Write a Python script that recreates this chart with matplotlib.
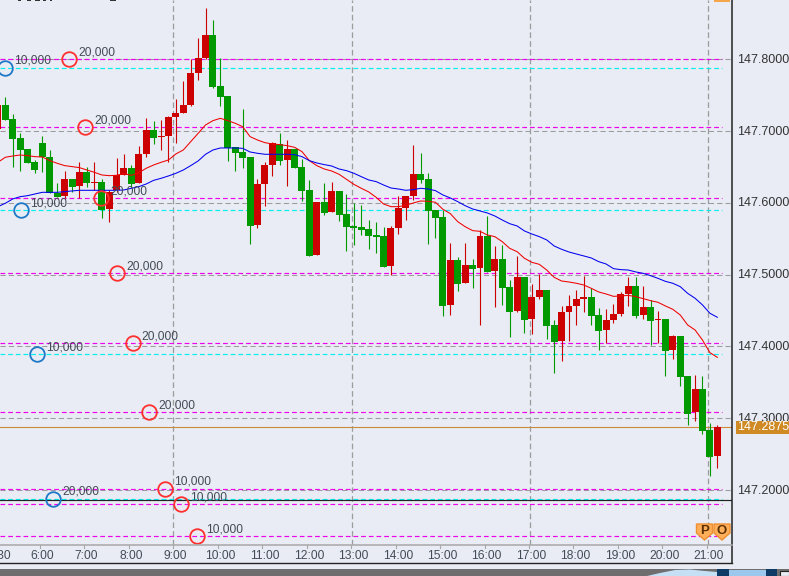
"""
USD/JPY 10 minute candles with order levels, redrawn from a screenshot.
"""
import matplotlib
matplotlib.use("Agg")
import matplotlib.pyplot as plt
from matplotlib.patches import Rectangle, Polygon

W, H = 789, 576
BG = "#e9ecf4"
RED = "#cc0000"
GREEN = "#009900"
TEXT = "#434c56"

# red body = up, green body = down
opens = [147.7031, 147.7366, 147.7166, 147.6901, 147.6753, 147.6572, 147.6832, 147.6637, 147.6144, 147.6102,
         147.6335, 147.6237, 147.6432, 147.6279, 147.6293, 147.5916, 147.6182, 147.6391, 147.6488, 147.6279,
         147.6684, 147.7017, 147.6925, 147.6934, 147.7199, 147.7255, 147.7366, 147.7812, 147.8021, 147.8342,
         147.7631, 147.7492, 147.6781, 147.6711, 147.6641, 147.5693, 147.6265, 147.6530, 147.6823, 147.6600,
         147.6753, 147.6502, 147.6182, 147.5276, 147.6014, 147.5875, 147.6168, 147.5847, 147.5680, 147.5666,
         147.5638, 147.5554, 147.5540, 147.5122, 147.5652, 147.5931, 147.6098, 147.6404, 147.6335, 147.5902,
         147.5805, 147.4579, 147.5205, 147.4885, 147.5136, 147.5094, 147.5540, 147.5053, 147.5220, 147.4830,
         147.4495, 147.4969, 147.4382, 147.4690, 147.4788, 147.4300, 147.4077, 147.4481, 147.4565, 147.4662,
         147.4690, 147.4439, 147.4230, 147.4368, 147.4451, 147.4732, 147.4844, 147.4439, 147.4551, 147.4368,
         147.4382, 147.3951, 147.4146, 147.3589, 147.3087, 147.3408, 147.2836, 147.2474]
highs = [147.7366, 147.7473, 147.7236, 147.6971, 147.6753, 147.6600, 147.6934, 147.6739, 147.6275, 147.6446,
         147.6335, 147.6567, 147.6497, 147.6567, 147.6335, 147.6182, 147.6628, 147.6684, 147.6530, 147.6795,
         147.7185, 147.7143, 147.7157, 147.7213, 147.7450, 147.7701, 147.8003, 147.8300, 147.8714, 147.8551,
         147.8021, 147.7492, 147.6781, 147.7310, 147.6641, 147.6335, 147.6572, 147.6850, 147.6976, 147.6878,
         147.6753, 147.6614, 147.6321, 147.6014, 147.6279, 147.6293, 147.6168, 147.6126, 147.6000, 147.5972,
         147.5763, 147.5735, 147.5666, 147.5680, 147.6098, 147.6098, 147.6809, 147.6697, 147.6418, 147.5902,
         147.5902, 147.5438, 147.5248, 147.5443, 147.5220, 147.5624, 147.5819, 147.5401, 147.5415, 147.4927,
         147.5262, 147.4969, 147.4871, 147.5011, 147.4788, 147.4368, 147.4565, 147.4718, 147.4788, 147.4983,
         147.4816, 147.4536, 147.4522, 147.4592, 147.4760, 147.4969, 147.4969, 147.4844, 147.4648, 147.4495,
         147.4382, 147.4160, 147.4146, 147.3589, 147.3603, 147.3589, 147.2934, 147.2906]
lows = [147.7031, 147.7157, 147.6507, 147.6451, 147.6553, 147.6423, 147.6437, 147.6135, 147.6088, 147.6065,
        147.6158, 147.6065, 147.6228, 147.6182, 147.5795, 147.5740, 147.6158, 147.6391, 147.6228, 147.6279,
        147.6646, 147.6823, 147.6739, 147.6577, 147.6832, 147.7255, 147.7352, 147.7715, 147.8003, 147.7599,
        147.7352, 147.6586, 147.6446, 147.6484, 147.5429, 147.5652, 147.5958, 147.6377, 147.6530, 147.6237,
        147.6488, 147.6028, 147.5262, 147.5276, 147.5833, 147.5875, 147.5749, 147.5331, 147.5415, 147.5554,
        147.5359, 147.5303, 147.5108, 147.4997, 147.5568, 147.5763, 147.6042, 147.6279, 147.5429, 147.5513,
        147.4425, 147.4439, 147.4774, 147.4885, 147.4816, 147.4300, 147.5039, 147.4551, 147.4579, 147.4132,
        147.4481, 147.4187, 147.4175, 147.4662, 147.4105, 147.3631, 147.3798, 147.4077, 147.4300, 147.4481,
        147.4300, 147.3951, 147.4054, 147.4327, 147.4425, 147.4565, 147.4398, 147.4382, 147.4021, 147.4054,
        147.3589, 147.3826, 147.3450, 147.2906, 147.2962, 147.2781, 147.2195, 147.2307]
closes = [147.7366, 147.7157, 147.6892, 147.6739, 147.6558, 147.6460, 147.6637, 147.6135, 147.6088, 147.6335,
          147.6228, 147.6432, 147.6284, 147.6293, 147.5902, 147.6158, 147.6391, 147.6488, 147.6265, 147.6684,
          147.7017, 147.6906, 147.6939, 147.7199, 147.7255, 147.7366, 147.7812, 147.8021, 147.8342, 147.7617,
          147.7478, 147.6767, 147.6697, 147.6632, 147.5680, 147.6265, 147.6530, 147.6837, 147.6586, 147.6753,
          147.6488, 147.6168, 147.5262, 147.6014, 147.5861, 147.6168, 147.5833, 147.5666, 147.5652, 147.5624,
          147.5540, 147.5526, 147.5108, 147.5652, 147.5931, 147.6098, 147.6404, 147.6321, 147.5889, 147.5791,
          147.4565, 147.5205, 147.4871, 147.5136, 147.5080, 147.5540, 147.5039, 147.5220, 147.4816, 147.4481,
          147.4969, 147.4368, 147.4690, 147.4788, 147.4286, 147.4063, 147.4481, 147.4565, 147.4662, 147.4690,
          147.4425, 147.4216, 147.4368, 147.4451, 147.4732, 147.4844, 147.4425, 147.4551, 147.4356, 147.4382,
          147.3937, 147.4146, 147.3575, 147.3059, 147.3408, 147.2822, 147.2460, 147.2875]

ma_fast = [147.6567, 147.6637, 147.6655, 147.6669, 147.6660, 147.6646, 147.6641, 147.6590, 147.6553, 147.6521,
           147.6507, 147.6493, 147.6460, 147.6428, 147.6391, 147.6381, 147.6386, 147.6409, 147.6386, 147.6423,
           147.6484, 147.6530, 147.6567, 147.6600, 147.6684, 147.6739, 147.6855, 147.6971, 147.7088, 147.7148,
           147.7180, 147.7148, 147.7111, 147.7064, 147.6925, 147.6878, 147.6841, 147.6823, 147.6813, 147.6799,
           147.6776, 147.6716, 147.6590, 147.6521, 147.6474, 147.6446, 147.6400, 147.6330, 147.6260, 147.6205,
           147.6154, 147.6079, 147.5986, 147.5949, 147.5949, 147.5968, 147.6000, 147.6028, 147.6024, 147.6010,
           147.5912, 147.5852, 147.5740, 147.5670, 147.5615, 147.5605, 147.5554, 147.5531, 147.5461, 147.5368,
           147.5322, 147.5229, 147.5173, 147.5145, 147.5066, 147.4964, 147.4913, 147.4899, 147.4881, 147.4857,
           147.4811, 147.4760, 147.4732, 147.4699, 147.4704, 147.4713, 147.4695, 147.4667, 147.4639, 147.4616,
           147.4565, 147.4518, 147.4439, 147.4300, 147.4230, 147.4090, 147.3914, 147.3849]
ma_slow = [147.5949, 147.5996, 147.6056, 147.6088, 147.6102, 147.6126, 147.6149, 147.6149, 147.6149, 147.6158,
           147.6168, 147.6177, 147.6177, 147.6177, 147.6177, 147.6177, 147.6177, 147.6182, 147.6205, 147.6228,
           147.6265, 147.6316, 147.6344, 147.6377, 147.6414, 147.6460, 147.6521, 147.6586, 147.6679, 147.6739,
           147.6767, 147.6767, 147.6767, 147.6762, 147.6711, 147.6693, 147.6679, 147.6679, 147.6679, 147.6679,
           147.6674, 147.6646, 147.6590, 147.6558, 147.6535, 147.6516, 147.6474, 147.6451, 147.6414, 147.6367,
           147.6321, 147.6298, 147.6251, 147.6209, 147.6195, 147.6177, 147.6186, 147.6205, 147.6195, 147.6172,
           147.6112, 147.6070, 147.6019, 147.5963, 147.5917, 147.5889, 147.5861, 147.5819, 147.5763, 147.5712,
           147.5680, 147.5610, 147.5568, 147.5531, 147.5485, 147.5401, 147.5355, 147.5317, 147.5289, 147.5262,
           147.5234, 147.5183, 147.5150, 147.5085, 147.5071, 147.5066, 147.5039, 147.5020, 147.4987, 147.4950,
           147.4908, 147.4881, 147.4834, 147.4741, 147.4672, 147.4579, 147.4463, 147.4407]

# order levels: bar position, price, size
sell_bars = [9.59, 11.75, 13.9, 16.06, 18.2, 20.37, 22.5, 24.7, 26.85]
sell_prices = [147.8003, 147.7055, 147.6065, 147.5020, 147.4044, 147.3082, 147.2019, 147.1800, 147.1355]
sell_sizes = ["20,000", "20,000", "20,000", "20,000", "20,000", "20,000", "10,000", "10,000", "10,000"]
buy_bars = [0.96, 3.12, 5.27, 7.43]
buy_prices = [147.7887, 147.5898, 147.3891, 147.1879]
buy_sizes = ["10,000", "10,000", "10,000", "20,000"]

price_ticks = [147.2, 147.3, 147.4, 147.5, 147.6, 147.7, 147.8]
grid_prices = [147.2, 147.3, 147.4, 147.5, 147.6, 147.7, 147.8, 147.9]
time_labels = ["5:30", "6:00", "7:00", "8:00", "9:00", "10:00", "11:00", "12:00", "13:00", "14:00", "15:00",
               "16:00", "17:00", "18:00", "19:00", "20:00", "21:00"]
last_price = 147.2875
ask_line = 147.1856

BAR_PX = 7.417


def BarX(px):
    # pixel column to bar number
    return (px - 5.3) / BAR_PX + 1


def main():
    plt.rcParams["font.family"] = ["Liberation Sans", "DejaVu Sans"]
    fig = plt.figure(figsize=(W / 100, H / 100), dpi=100, facecolor=BG)
    # whole-figure overlay in pixels for the frame pieces
    over = fig.add_axes([0, 0, 1, 1], zorder=5)
    over.set_xlim(0, W)
    over.set_ylim(H, 0)
    over.axis("off")

    ax = fig.add_axes([0, (H - 545) / H, 732 / W, 545 / H], zorder=1)
    ax.set_facecolor(BG)
    ax.set_xlim(BarX(0), BarX(732))
    ax.set_ylim(147.2 - 55 / 717.5, 147.2 + 490 / 717.5)
    for s in ax.spines.values():
        s.set_visible(False)
    ax.set_xticks([])
    ax.set_yticks([])

    for p in grid_prices:
        ax.axhline(p, color="#9c9c9c", lw=0.75, dashes=(5, 3), zorder=1)
    for h in range(4):
        ax.axvline(BarX(173.5) + 24 * h, color="#9c9c9c", lw=0.9, dashes=(4.5, 2.5), zorder=1)

    level_end = BarX(722)
    for p in sell_prices:
        ax.plot([BarX(0), level_end], [p, p], color="#ee00ee", lw=0.85, dashes=(4, 2.5), zorder=2)
    for p in buy_prices:
        ax.plot([BarX(0), level_end], [p, p], color="#00f0f0", lw=0.85, dashes=(4, 2.5), zorder=2)
    ax.plot([BarX(0), BarX(731)], [last_price, last_price], color="#cc8a3a", lw=0.8, zorder=2)
    ax.axhline(ask_line, color="#222222", lw=0.85, zorder=2)

    for i in range(len(opens)):
        color = RED if closes[i] >= opens[i] else GREEN
        ax.plot([i, i], [lows[i], highs[i]], color=color, lw=0.8, solid_capstyle="butt", zorder=3)
        bottom = min(opens[i], closes[i])
        height = max(abs(closes[i] - opens[i]), 0.0012)
        ax.add_patch(Rectangle((i - 0.47, bottom), 0.94, height, facecolor=color, edgecolor="none", zorder=3))

    bars = list(range(len(opens)))
    ax.plot(bars, ma_fast, color="#f00000", lw=0.75, zorder=4)
    ax.plot(bars, ma_slow, color="#0000f0", lw=0.75, zorder=4)

    for xs, ps, sizes, col in ((sell_bars, sell_prices, sell_sizes, "#ff3030"),
                               (buy_bars, buy_prices, buy_sizes, "#1e78c8")):
        ax.plot(xs, ps, "o", ms=10.5, mfc="none", mec=col, mew=1.3, zorder=6, clip_on=False)
        for x, p, s in zip(xs, ps, sizes):
            ax.annotate(s, (x, p), xytext=(9, 7), textcoords="offset pixels", fontsize=8.64,
                        color=TEXT, va="center", ha="left", zorder=7)

    # frame
    over.plot([732.5, 732.5], [0, 562.5], color="#222222", lw=1.1)
    over.plot([0, 732], [545, 545], color="#a8a8a8", lw=1.1)
    over.plot([0, 732.5], [562.5, 562.5], color="#222222", lw=1)
    for k, lab in enumerate(time_labels):
        if k == 0:
            over.text(-13, 556, lab, fontsize=8.64, color=TEXT, ha="left", va="center")
            continue
        x = 173.3 + (k - 4) * 44.46
        over.plot([x, x], [545, 548], color="#a8a8a8", lw=0.8)
        over.text(x + 2.2, 556, lab, fontsize=8.64, color=TEXT, ha="center", va="center")

    for p in price_ticks:
        y = 490 - (p - 147.2) * 717.5
        over.text(737, y + 0.5, f"{p:.4f}", fontsize=9, color="#333333", ha="left", va="center")
    y = 490 - (last_price - 147.2) * 717.5
    over.add_patch(Rectangle((736, y - 6.5), 53, 13, facecolor="#cf8a24", edgecolor="none", zorder=4))
    over.text(737, y, f"{last_price:.4f}", fontsize=9, color="white", ha="left", va="center", zorder=5)

    # P and O badges
    for cx, lab in ((704.5, "P"), (722, "O")):
        over.add_patch(Polygon([(cx - 8, 524), (cx + 8, 524), (cx + 8, 533), (cx, 540), (cx - 8, 533)],
                               closed=True, facecolor="#ffae5a", edgecolor="#ee9030", lw=1, zorder=4))
        over.text(cx, 530.5, lab, fontsize=9.5, fontweight="bold", color="#5a3000", ha="center", va="center",
                  zorder=5)

    # cut-off pieces at the window edges
    over.add_patch(Rectangle((714, 0), 16, 1.5, facecolor="#f5a54a", edgecolor="none"))
    for x0, x1 in ((18, 21), (27, 31), (35, 40), (43, 46), (50, 52), (110, 116)):
        over.add_patch(Rectangle((x0, 0), x1 - x0, 1, facecolor="#333333", edgecolor="none"))
    over.add_patch(Rectangle((0, 569), W, 7, facecolor="#6e6e6e", edgecolor="none"))
    over.add_patch(Polygon([(647, 576), (660, 573), (675, 570), (690, 569.5), (705, 571), (717, 572), (717, 576)],
                           closed=True, facecolor="#c5dff5", edgecolor="none"))
    over.add_patch(Rectangle((717, 569), 12, 7, facecolor="#0e3a66", edgecolor="none"))
    over.add_patch(Rectangle((729, 570), 37, 6, facecolor="#9cc8ee", edgecolor="none"))
    over.add_patch(Rectangle((766, 569), 11, 7, facecolor="#0e3a66", edgecolor="none"))
    over.add_patch(Rectangle((780, 571), 9, 5, facecolor=BG, edgecolor="#222222", lw=0.8))

    fig.savefig("out.png", dpi=100, facecolor=BG)
    plt.close(fig)


if __name__ == "__main__":
    main()
